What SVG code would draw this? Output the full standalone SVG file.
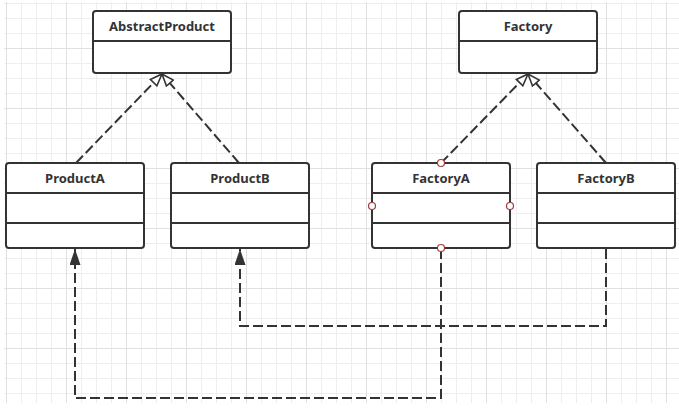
<svg xmlns="http://www.w3.org/2000/svg" width="679" height="412" viewBox="0 0 679 412">
<defs>
<style>
.box{fill:#fff;stroke:#333;stroke-width:2}
.div{stroke:#333;stroke-width:2}
.lbl{font-family:"Noto Sans","Liberation Sans",sans-serif;font-weight:bold;font-size:13px;fill:#333;text-anchor:middle}
.dash{fill:none;stroke:#333;stroke-width:2;stroke-dasharray:10 4}
.handle{fill:#fff;stroke:#a33a3a;stroke-width:1.2}
.minor{stroke:#eeeeee;stroke-width:1}
.major{stroke:#e0e0e0;stroke-width:1}
</style>
<pattern id="grid" patternUnits="userSpaceOnUse" x="6" y="48" width="60" height="60">
<path class="minor" d="M0.5,0V60M15.5,0V60M30.5,0V60M45.5,0V60M0,0.5H60M0,15.5H60M0,30.5H60M0,45.5H60"/>
<path class="major" d="M0.5,0V60M0,0.5H60"/>
</pattern>
<marker id="hollow" markerUnits="userSpaceOnUse" viewBox="0 0 14 12" refX="13" refY="6" markerWidth="14" markerHeight="12" orient="auto">
<path d="M1,1.5 L13,6 L1,10.5 Z" fill="#fff" stroke="#333" stroke-width="1.6" stroke-dasharray="none"/>
</marker>
<marker id="filled" markerUnits="userSpaceOnUse" viewBox="0 0 16 11" refX="16" refY="5.5" markerWidth="16" markerHeight="11" orient="auto">
<path d="M0,0 L16,5.5 L0,11 Z" fill="#333" stroke="none"/>
</marker>
</defs>
<rect x="0" y="0" width="679" height="412" fill="#fff"/>
<rect x="4" y="2" width="675" height="401" fill="url(#grid)"/>

<g id="connectors">
<path class="dash" d="M76,163 L162,74" marker-end="url(#hollow)"/>
<path class="dash" d="M239,163 L162,74" marker-end="url(#hollow)"/>
<path class="dash" d="M441,163 L528,74" marker-end="url(#hollow)"/>
<path class="dash" d="M606,163 L528,74" marker-end="url(#hollow)"/>
<path class="dash" d="M606,249 V326 H240 V249" marker-end="url(#filled)"/>
<path class="dash" d="M441,249 V398 H75 V249" marker-end="url(#filled)"/>
</g>

<g id="AbstractProduct">
<rect class="box" x="93" y="11" width="138" height="62" rx="3"/>
<line class="div" x1="93" y1="41" x2="231" y2="41"/>
<text class="lbl" x="162" y="31">AbstractProduct</text>
</g>
<g id="Factory">
<rect class="box" x="459" y="11" width="138" height="62" rx="3"/>
<line class="div" x1="459" y1="41" x2="597" y2="41"/>
<text class="lbl" x="528" y="31">Factory</text>
</g>
<g id="ProductA">
<rect class="box" x="6" y="163" width="138" height="85" rx="3"/>
<line class="div" x1="6" y1="193" x2="144" y2="193"/>
<line class="div" x1="6" y1="223" x2="144" y2="223"/>
<text class="lbl" x="75" y="183">ProductA</text>
</g>
<g id="ProductB">
<rect class="box" x="171" y="163" width="138" height="85" rx="3"/>
<line class="div" x1="171" y1="193" x2="309" y2="193"/>
<line class="div" x1="171" y1="223" x2="309" y2="223"/>
<text class="lbl" x="240" y="183">ProductB</text>
</g>
<g id="FactoryA">
<rect class="box" x="372" y="163" width="138" height="85" rx="3"/>
<line class="div" x1="372" y1="193" x2="510" y2="193"/>
<line class="div" x1="372" y1="223" x2="510" y2="223"/>
<text class="lbl" x="441" y="183">FactoryA</text>
<circle class="handle" cx="441" cy="163" r="3.5"/>
<circle class="handle" cx="372" cy="206" r="3.5"/>
<circle class="handle" cx="510" cy="206" r="3.5"/>
<circle class="handle" cx="441" cy="248" r="3.5"/>
</g>
<g id="FactoryB">
<rect class="box" x="537" y="163" width="138" height="85" rx="3"/>
<line class="div" x1="537" y1="193" x2="675" y2="193"/>
<line class="div" x1="537" y1="223" x2="675" y2="223"/>
<text class="lbl" x="606" y="183">FactoryB</text>
</g>
</svg>
